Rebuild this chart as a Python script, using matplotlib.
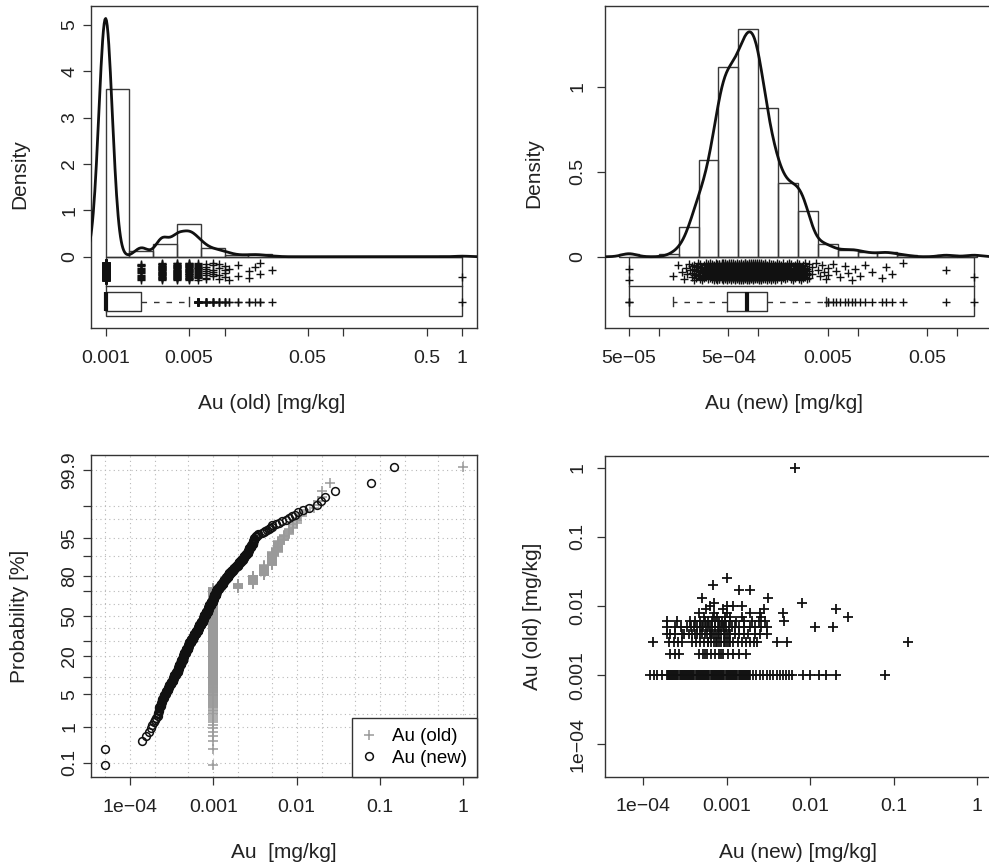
import numpy as np
import matplotlib
matplotlib.use('Agg')
import matplotlib.pyplot as plt
from matplotlib import cbook
from matplotlib.patches import Rectangle
from matplotlib.ticker import NullLocator
from statistics import NormalDist

plt.rcParams['font.family'] = ['Liberation Sans', 'DejaVu Sans']

# ---------------- data ----------------
# Au (old): reported levels [mg/kg] and number of samples at each level
old_levels = [0.001, 0.002, 0.003, 0.004, 0.005, 0.006, 0.007, 0.008, 0.009,
              0.01, 0.011, 0.013, 0.016, 0.018, 0.02, 0.025, 1.0]
old_counts = [435, 16, 32, 33, 32, 19, 8, 6, 4, 4, 2, 2, 2, 1, 2, 1, 1]

# Au (new): values [mg/kg] and number of samples at each value
new_values = [5.0e-5, 1.38e-4, 1.55e-4, 1.70e-4, 1.78e-4, 1.86e-4, 1.93e-4, 2.00e-4, 2.04e-4,
              2.14e-4, 2.24e-4, 2.34e-4, 2.45e-4, 2.57e-4, 2.69e-4, 2.82e-4, 2.95e-4,
              3.09e-4, 3.24e-4, 3.39e-4, 3.55e-4, 3.72e-4, 3.89e-4, 4.07e-4, 4.27e-4,
              4.47e-4, 4.68e-4, 4.90e-4, 5.13e-4, 5.37e-4, 5.62e-4, 5.89e-4, 6.17e-4,
              6.46e-4, 6.76e-4, 7.08e-4, 7.41e-4, 7.76e-4, 8.13e-4, 8.51e-4, 8.91e-4,
              9.33e-4, 9.77e-4, 1.02e-3, 1.07e-3, 1.12e-3, 1.17e-3, 1.23e-3, 1.29e-3,
              1.35e-3, 1.41e-3, 1.48e-3, 1.55e-3, 1.62e-3, 1.70e-3, 1.78e-3, 1.86e-3,
              1.95e-3, 2.04e-3, 2.14e-3, 2.24e-3, 2.34e-3, 2.45e-3, 2.57e-3, 2.69e-3,
              2.82e-3, 2.95e-3, 3.09e-3, 3.24e-3, 3.47e-3, 3.80e-3,
              4.0e-3, 4.2e-3, 4.4e-3, 4.6e-3, 4.8e-3, 5.0e-3, 5.1e-3, 5.6e-3, 6.1e-3,
              6.7e-3, 7.5e-3, 8.1e-3, 8.9e-3, 9.5e-3, 1.05e-2, 1.2e-2, 1.4e-2,
              1.75e-2, 1.95e-2, 2.2e-2, 2.9e-2, 7.8e-2, 0.149]
new_counts = [2, 1, 1, 1, 1, 1, 1, 1, 1,
              3, 4, 4, 4, 5, 5, 5, 5,
              6, 7, 7, 7, 10, 11, 13, 14,
              13, 14, 14, 14, 13, 13, 13, 13,
              15, 16, 15, 16, 17, 17, 17, 17,
              16, 15, 17, 17, 10, 9, 10, 10,
              8, 8, 8, 8, 6, 5, 5, 5,
              6, 5, 5, 5, 5, 5, 6, 5,
              5, 6, 4, 3, 2, 1,
              1, 1, 1, 1, 1, 1, 1, 1, 1,
              1, 1, 1, 1, 1, 1, 1, 1,
              1, 1, 1, 1, 1, 1]

# paired samples: Au (new) values for each level of Au (old)
pair_old_levels = [0.001, 0.002, 0.003, 0.004, 0.005, 0.006, 0.007, 0.008,
                   0.009, 0.01, 0.011, 0.013, 0.017, 0.02, 0.025, 1.0]
pair_new_rows = [
    [1.2e-4, 1.33e-4, 1.46e-4, 1.67e-4,
     1.90e-4, 1.96e-4, 2.02e-4, 2.08e-4, 2.14e-4, 2.20e-4, 2.27e-4, 2.34e-4, 2.41e-4, 2.48e-4,
     2.55e-4, 2.63e-4, 2.71e-4, 2.79e-4, 2.87e-4, 2.96e-4, 3.05e-4, 3.14e-4, 3.23e-4, 3.33e-4,
     3.43e-4, 3.53e-4, 3.64e-4, 3.75e-4, 3.86e-4, 3.97e-4, 4.09e-4, 4.22e-4, 4.34e-4, 4.47e-4,
     4.61e-4, 4.75e-4, 4.89e-4, 5.04e-4, 5.19e-4, 5.34e-4, 5.50e-4, 5.67e-4, 5.84e-4, 6.01e-4,
     6.19e-4, 6.38e-4, 6.57e-4, 6.77e-4, 6.97e-4, 7.18e-4, 7.40e-4, 7.62e-4, 7.85e-4, 8.08e-4,
     8.32e-4, 8.57e-4, 8.83e-4, 9.10e-4, 9.37e-4, 9.65e-4, 9.94e-4, 1.02e-3, 1.05e-3, 1.09e-3,
     1.12e-3, 1.15e-3, 1.19e-3, 1.22e-3, 1.26e-3, 1.30e-3, 1.34e-3, 1.38e-3, 1.42e-3, 1.46e-3,
     1.50e-3, 1.55e-3, 1.60e-3, 1.64e-3, 1.69e-3, 1.74e-3, 1.80e-3, 1.85e-3, 1.90e-3,
     2.05e-3, 2.25e-3, 2.5e-3, 2.75e-3, 3.0e-3, 3.3e-3, 3.6e-3, 3.95e-3, 4.3e-3, 4.7e-3,
     5.1e-3, 5.6e-3, 6.1e-3, 8.1e-3, 9.8e-3, 1.29e-2, 1.55e-2, 2.05e-2, 7.85e-2],
    [2.1e-4, 2.4e-4, 2.65e-4, 4.6e-4, 5.2e-4, 5.5e-4, 5.8e-4, 6.4e-4, 7.2e-4, 8.1e-4,
     8.5e-4, 9.0e-4, 1.02e-3, 1.17e-3, 1.41e-3, 1.69e-3],
    [1.29e-4, 2.0e-4, 2.3e-4, 2.6e-4, 2.9e-4, 3.8e-4, 4.3e-4, 4.8e-4, 5.3e-4, 5.9e-4,
     6.0e-4, 6.5e-4, 7.1e-4, 7.4e-4, 7.7e-4, 8.0e-4, 8.4e-4, 9.2e-4, 9.6e-4, 1.0e-3,
     1.05e-3, 1.1e-3, 1.2e-3, 1.35e-3, 1.5e-3, 1.7e-3, 1.9e-3, 2.1e-3, 2.3e-3, 4.0e-3,
     5.2e-3, 0.149],
    [1.9e-4, 2.1e-4, 2.4e-4, 2.9e-4, 3.1e-4, 3.5e-4, 3.8e-4, 4.1e-4, 4.4e-4, 4.7e-4,
     5.0e-4, 5.4e-4, 5.8e-4, 6.2e-4, 6.4e-4, 6.6e-4, 7.0e-4, 7.5e-4, 7.8e-4, 8.0e-4,
     8.6e-4, 9.2e-4, 9.5e-4, 1.0e-3, 1.05e-3, 1.1e-3, 1.25e-3, 1.4e-3, 1.6e-3, 1.8e-3,
     2.2e-3, 2.5e-3, 3.0e-3],
    [1.9e-4, 2.4e-4, 2.8e-4, 3.3e-4, 3.7e-4, 4.0e-4, 4.4e-4, 4.8e-4, 5.0e-4, 5.2e-4,
     5.7e-4, 6.0e-4, 6.2e-4, 6.7e-4, 7.2e-4, 7.8e-4, 8.1e-4, 8.4e-4, 9.0e-4, 9.3e-4,
     9.7e-4, 1.05e-3, 1.15e-3, 1.25e-3, 1.4e-3, 1.6e-3, 1.9e-3, 2.2e-3, 2.6e-3, 3.0e-3,
     1.15e-2, 1.9e-2],
    [1.9e-4, 2.5e-4, 3.6e-4, 4.2e-4, 4.8e-4, 5.4e-4, 6.0e-4, 6.6e-4, 7.3e-4, 8.0e-4,
     8.8e-4, 9.6e-4, 1.1e-3, 1.3e-3, 1.6e-3, 2.0e-3, 2.4e-3, 2.9e-3, 4.8e-3],
    [5.3e-4, 6.8e-4, 7.6e-4, 9.5e-4, 1.1e-3, 1.5e-3, 2.6e-3, 2.84e-2],
    [4.6e-4, 7.0e-4, 1.0e-3, 1.9e-3, 2.5e-3, 4.7e-3],
    [5.6e-4, 9.0e-4, 2.8e-3, 2.06e-2],
    [6.3e-4, 1.0e-3, 1.2e-3, 1.5e-3],
    [7.0e-4, 8.0e-3],
    [5.1e-4, 3.1e-3],
    [1.38e-3, 1.89e-3],
    [6.8e-4],
    [1.0e-3],
    [6.6e-3],
]

au_old = np.repeat(old_levels, old_counts)
au_new = np.repeat(new_values, new_counts)

# ---------------- helpers ----------------
W, H = 989.0, 868.0
FRAME = '#333333'
INK = '#111111'

fig = plt.figure(figsize=(W / 100, H / 100), dpi=100)


def add_ax(left, top, right, bottom):
    return fig.add_axes([left / W, 1 - bottom / H, (right - left) / W, (bottom - top) / H])


def style(ax, ypad):
    for s in ax.spines.values():
        s.set_color(FRAME)
        s.set_linewidth(1.0)
    ax.tick_params(direction='out', length=6, width=0.9, color=FRAME, labelsize=14,
                   labelcolor='#222222')
    ax.tick_params(axis='x', pad=9.5)
    ax.tick_params(axis='y', pad=ypad)
    ax.xaxis.set_minor_locator(NullLocator())
    ax.yaxis.set_minor_locator(NullLocator())


def xlabel(x, y, s):
    fig.text(x / W, 1 - y / H, s, ha='center', va='baseline', fontsize=15, color='#222222')


def ylabel(x, y, s):
    fig.text(x / W, 1 - y / H, s, ha='center', va='baseline', rotation=90,
             rotation_mode='anchor', fontsize=15, color='#222222')


def kde_log(values):
    # gaussian kernel density of log10 data, bandwidth as R's bw.nrd0
    lv = np.log10(values)
    q1, q3 = np.percentile(lv, [25, 75])
    bw = 0.9 * min(lv.std(ddof=1), (q3 - q1) / 1.34) * len(lv) ** -0.2
    grid = np.linspace(lv.min() - 3 * bw, lv.max() + 3 * bw, 512)
    dens = np.exp(-0.5 * ((grid[:, None] - lv[None, :]) / bw) ** 2).sum(axis=1)
    dens /= len(lv) * bw * np.sqrt(2 * np.pi)
    return 10 ** grid, dens


def eda_panel(ax, values, log_edges, ytop):
    lv = np.log10(values)
    n = len(values)
    # right-closed histogram bins (as R), density per log10 unit
    cnt = np.histogram(-lv, bins=-log_edges[::-1])[0][::-1]
    dens = cnt / (n * np.diff(log_edges))
    left, right = 10 ** log_edges[:-1], 10 ** log_edges[1:]
    ax.bar(left, dens, width=right - left, align='edge', fill=False,
           edgecolor='#3a3a3a', linewidth=1.0, zorder=2)
    kx, ky = kde_log(values)
    ax.plot(kx, ky, color=INK, lw=2.0, zorder=3)

    lo, hi = values.min(), values.max()
    ax.add_patch(Rectangle((lo, -0.237 * ytop), hi - lo, 0.237 * ytop, fill=False,
                           edgecolor=FRAME, linewidth=1.0, zorder=2))
    ax.plot([lo, hi], [-0.117 * ytop] * 2, color=FRAME, lw=1.0, zorder=2)

    # jittered 1-d scatter
    jit = (np.arange(n) * 0.618034) % 1 - 0.5
    ax.plot(values, ytop * (-0.0585 + 0.07 * jit), '+', color=INK, ms=5.5, mew=1.0, zorder=3)

    # boxplot computed on the log scale
    st = cbook.boxplot_stats(lv)[0]
    for k in ('med', 'q1', 'q3', 'whislo', 'whishi'):
        st[k] = 10 ** st[k]
    st['fliers'] = 10 ** st['fliers']
    ax.bxp([st], positions=[-0.179 * ytop], widths=[0.074 * ytop], orientation='horizontal',
           manage_ticks=False,
           boxprops=dict(color=FRAME, lw=1.0),
           whiskerprops=dict(color=FRAME, lw=1.0, linestyle=(0, (4, 5))),
           capprops=dict(color=FRAME, lw=1.0),
           medianprops=dict(color=INK, lw=3.0),
           flierprops=dict(marker='+', markersize=5.5, markeredgecolor=INK, mew=1.0,
                           linestyle='none'))


# ---------------- top left: Au (old) ----------------
ax1 = add_ax(91.3, 6, 476.7, 328.3)
ax1.set_xscale('log')
eda_panel(ax1, au_old, np.round(np.linspace(-3.0, 0.0, 16), 10), 5.41)
ax1.set_xlim(10 ** -3.12, 10 ** 0.12)
ax1.set_ylim(-1.545, 5.41)
style(ax1, 3.5)
ax1.set_xticks([0.001, 0.005, 0.01, 0.05, 0.1, 0.5, 1],
               ['0.001', '0.005', '', '0.05', '', '0.5', '1'])
ax1.set_yticks([0, 1, 2, 3, 4, 5], ['0', '1', '2', '3', '4', '5'], rotation=90, va='center')
xlabel(271.7, 409, 'Au (old) [mg/kg]')
ylabel(25, 174, 'Density')

# ---------------- top right: Au (new) ----------------
ax2 = add_ax(604.7, 6, 1000, 328.3)
ax2.set_xscale('log')
eda_panel(ax2, au_new, np.round(np.linspace(-4.4, -0.8, 19), 10), 1.475)
ax2.set_xlim(10 ** -4.546, 10 ** -0.565)
ax2.set_ylim(-0.421, 1.475)
style(ax2, 7)
ax2.set_xticks([5e-5, 1e-4, 5e-4, 1e-3, 5e-3, 0.01, 0.05, 0.1],
               ['5e\u221205', '', '5e\u221204', '', '0.005', '', '0.05', ''])
ax2.set_yticks([0, 0.5, 1], ['0', '0.5', '1'], rotation=90, va='center')
xlabel(784, 409, 'Au (new) [mg/kg]')
ylabel(539, 173, 'Density')

# ---------------- bottom left: probability plot ----------------
nd = NormalDist()
_ppf = np.vectorize(nd.inv_cdf, otypes=[float])
_cdf = np.vectorize(nd.cdf, otypes=[float])


def prob_fwd(p):
    return _ppf(np.clip(np.asarray(p, float) / 100.0, 1e-12, 1 - 1e-12))


def prob_inv(z):
    return 100.0 * _cdf(np.asarray(z, float))


ax3 = add_ax(91.3, 455, 477.3, 777.3)
ax3.set_xscale('log')
ax3.set_yscale('function', functions=(prob_fwd, prob_inv))
grid_x = [5e-5, 1e-4, 2e-4, 5e-4, 1e-3, 2e-3, 5e-3, 0.01, 0.02, 0.05, 0.1, 0.2, 0.5, 1]
grid_p = [0.1, 1, 2, 5, 10, 20, 30, 40, 50, 60, 70, 80, 90, 95, 98, 99, 99.9]
for g in grid_x:
    ax3.axvline(g, color='#b8b8b8', lw=0.8, ls=(0, (1, 3)), zorder=0)
for g in grid_p:
    ax3.axhline(g, color='#b8b8b8', lw=0.8, ls=(0, (1, 3)), zorder=0)

for vals, kw, lab in [
        (au_old, dict(marker='+', color='#9a9a9a', ms=6.5, mew=1.1), 'Au (old)'),
        (au_new, dict(marker='o', mfc='none', mec=INK, color=INK, ms=5.6, mew=1.1), 'Au (new)')]:
    srt = np.sort(vals)
    pp = (np.arange(1, len(srt) + 1) - 0.5) / len(srt) * 100
    ax3.plot(srt, pp, linestyle='none', label=lab, **kw)

ax3.set_xlim(10 ** -4.465, 10 ** 0.168)
ax3.set_ylim(0.0339, 99.967)
style(ax3, 3.5)
ax3.set_xticks([1e-4, 1e-3, 0.01, 0.1, 1], ['1e\u221204', '0.001', '0.01', '0.1', '1'])
prob_ticks = [0.1, 1, 5, 10, 20, 30, 50, 70, 80, 90, 95, 99, 99.9]
ax3.set_yticks(prob_ticks, ['0.1', '1', '5', '', '20', '', '50', '', '80', '', '95', '', '99.9'],
               rotation=90, va='center')
leg = ax3.legend(loc='lower right', borderaxespad=0, fancybox=False, framealpha=1,
                 edgecolor=FRAME, fontsize=13.5, handlelength=0.7, handletextpad=0.9,
                 borderpad=0.55, labelspacing=0.25)
leg.get_frame().set_linewidth(1.0)
xlabel(284.3, 858, 'Au  [mg/kg]')
ylabel(25, 616, 'Probability [%]')

# ---------------- bottom right: scatter old vs new ----------------
ax4 = add_ax(604.7, 455.7, 991, 776.7)
ax4.set_xscale('log')
ax4.set_yscale('log')
px = np.concatenate([np.asarray(r) for r in pair_new_rows])
py = np.repeat(pair_old_levels, [len(r) for r in pair_new_rows])
ax4.plot(px, py, '+', color=INK, ms=7.5, mew=1.3)
ax4.set_xlim(10 ** -4.465, 10 ** 0.168)
ax4.set_ylim(10 ** -4.468, 10 ** 0.173)
style(ax4, 7)
ax4.set_xticks([1e-4, 1e-3, 0.01, 0.1, 1], ['1e\u221204', '0.001', '0.01', '0.1', '1'])
ax4.set_yticks([1e-4, 1e-3, 0.01, 0.1, 1], ['1e\u221204', '0.001', '0.01', '0.1', '1'],
               rotation=90, va='center')
xlabel(798, 858, 'Au (new) [mg/kg]')
ylabel(538, 616, 'Au (old) [mg/kg]')

fig.savefig('out.png', dpi=100)
